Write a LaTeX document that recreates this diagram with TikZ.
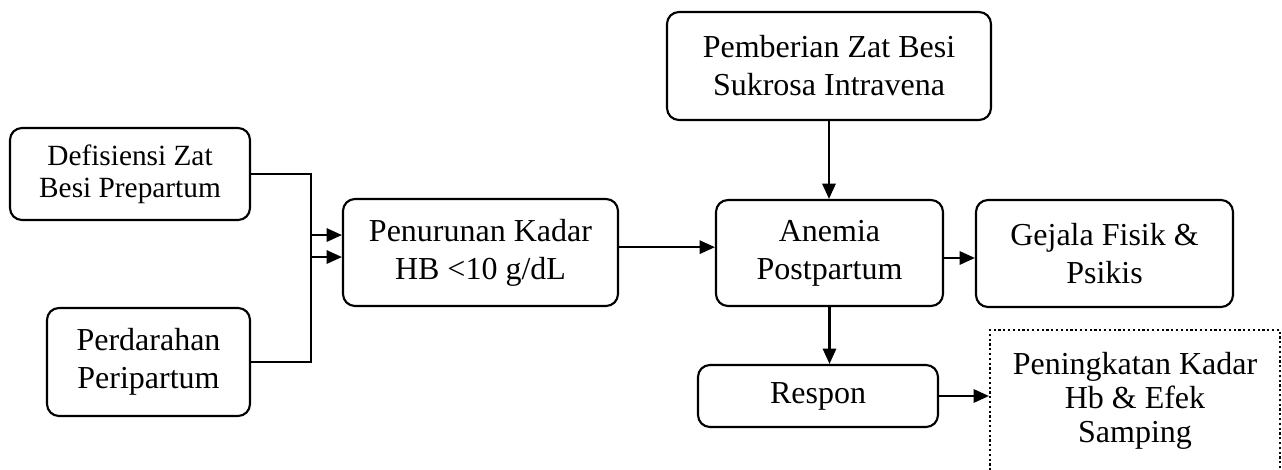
\documentclass[tikz,border=0pt]{standalone}
\usepackage{fontspec}
\setmainfont{Liberation Serif}
\usetikzlibrary{arrows.meta}

\tikzset{
box/.style={draw, rounded corners=9pt, align=center, inner sep=0.75pt, font=\fontsize{24}{28.5}\selectfont},
dotbox/.style={draw, dotted, align=center, inner sep=0.75pt, font=\fontsize{24}{25.5}\selectfont},
arr/.style={-{Triangle[length=11.5pt,width=10pt]}}}

\begin{document}
\begin{tikzpicture}[x=0.75pt,y=0.75pt,yscale=-1,xscale=1,line width=1.6pt]
\useasboundingbox (0,0) rectangle (1282,470);

% Rounded Boxes
\node[box, minimum width=180pt, minimum height=69pt, font=\fontsize{22}{24}\selectfont] (def) at (130,174) {Defisiensi Zat\\Besi Prepartum};
\node[box, minimum width=152.25pt, minimum height=81pt] (per) at (148.5,362) {Perdarahan\\Peripartum};
\node[box, minimum width=206.25pt, minimum height=80.25pt] (pen) at (480.5,252.5) {Penurunan Kadar\\HB <10 g/dL};
\node[box, minimum width=243pt, minimum height=81pt] (pem) at (829,66) {Pemberian Zat Besi\\Sukrosa Intravena};
\node[box, minimum width=170.25pt, minimum height=79.5pt] (ane) at (829.5,253) {Anemia\\Postpartum};
\node[box, minimum width=192.75pt, minimum height=80.25pt] (gej) at (1104.5,253.5) {Gejala Fisik \&\\Psikis};
\node[box, minimum width=180pt, minimum height=46.5pt] (res) at (818,396) {Respon};
% Dotted Box
\node[dotbox, minimum width=217.5pt, minimum height=105.75pt] (hb) at (1135,400.5) {Peningkatan Kadar\\Hb \& Efek\\Samping};

% Arrows
\draw[arr] (def.east) -| ([xshift=-23.25pt,yshift=3.4pt]pen.west) -- ([yshift=3.4pt]pen.west);
\draw[arr] (per.east) -| ([xshift=-23.25pt,yshift=-13.1pt]pen.west) -- ([yshift=-13.1pt]pen.west);
\draw[arr] ([yshift=-4pt]pen.east) -- ([yshift=-4pt]pen.east -| ane.west);
\draw[arr] (pem.south) -- (pem.south |- ane.north);
\draw[arr] ([yshift=3.75pt]ane.east) -- ([yshift=3.75pt]ane.east -| gej.west);
\draw[arr] (ane.south) -- (ane.south |- res.north);
\draw[arr] (res.east) -- (res.east -| hb.west);

\end{tikzpicture}
\end{document}
